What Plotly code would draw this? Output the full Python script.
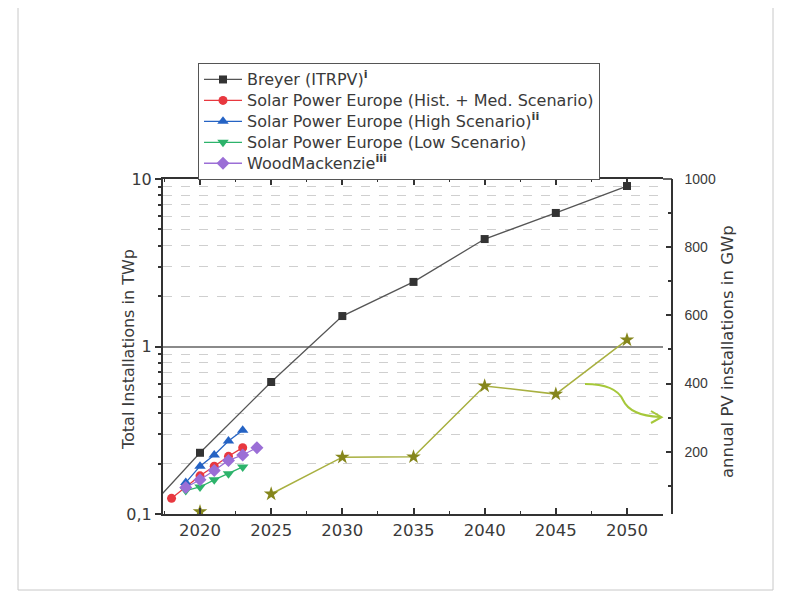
import plotly.graph_objects as go

# ---------------- data ----------------
breyer_years = [2015, 2020, 2025, 2030, 2035, 2040, 2045, 2050]
breyer_twp = [0.08, 0.232, 0.614, 1.52, 2.43, 4.38, 6.27, 9.08]

spe_med_years = [2018, 2019, 2020, 2021, 2022, 2023]
spe_med_twp = [0.124, 0.145, 0.169, 0.193, 0.221, 0.249]

spe_high_years = [2019, 2020, 2021, 2022, 2023]
spe_high_twp = [0.154, 0.193, 0.225, 0.273, 0.316]

spe_low_years = [2019, 2020, 2021, 2022, 2023]
spe_low_twp = [0.138, 0.145, 0.160, 0.174, 0.191]

wood_years = [2019, 2020, 2021, 2022, 2023, 2024]
wood_twp = [0.144, 0.160, 0.182, 0.209, 0.225, 0.249]

annual_years = [2020, 2025, 2030, 2035, 2040, 2045, 2050]
annual_gwp = [24, 76, 184, 185, 393, 369, 528]

x_ticks = [2020, 2025, 2030, 2035, 2040, 2045, 2050]
left_ticks = [0.1, 1, 10]
left_ticktext = ["0,1", "1", "10"]
right_ticks = [200, 400, 600, 800, 1000]

# ---------------- geometry helpers ----------------
# the page body adds an 8px margin, so the figure is drawn 8px smaller and
# every reference pixel position is shifted by that offset.
OFF = 8
W, H = 791 - OFF, 595 - OFF
L, R, T, B = 163 - OFF, 672 - OFF, 179 - OFF, 514 - OFF
X_END = 663 - OFF


def px(x):
    return (x - OFF - L) / (R - L)


def py(y):
    return (B - (y - OFF)) / (B - T)


FONT = "DejaVu Sans"
TXT = "#3a3a3a"

fig = go.Figure()


def leg(s):
    return '<span style="font-size:16px">' + s + '</span>'


fig.add_trace(go.Scatter(
    x=breyer_years, y=breyer_twp, mode="lines+markers",
    name=leg("Breyer (ITRPV)<sup><b>i</b></sup>"),
    line=dict(color="#555555", width=1.3),
    marker=dict(symbol="square", size=8, color="#333333")))
fig.add_trace(go.Scatter(
    x=spe_med_years, y=spe_med_twp, mode="lines+markers",
    name=leg("Solar Power Europe (Hist. + Med. Scenario)"),
    line=dict(color="#e8383f", width=1.3),
    marker=dict(symbol="circle", size=9, color="#e8383f")))
fig.add_trace(go.Scatter(
    x=spe_high_years, y=spe_high_twp, mode="lines+markers",
    name=leg("Solar Power Europe (High Scenario)<sup><b>ii</b></sup>"),
    line=dict(color="#2563c4", width=1.3),
    marker=dict(symbol="triangle-up", size=10, color="#2563c4")))
fig.add_trace(go.Scatter(
    x=spe_low_years, y=spe_low_twp, mode="lines+markers",
    name=leg("Solar Power Europe (Low Scenario)"),
    line=dict(color="#2db36b", width=1.3),
    marker=dict(symbol="triangle-down", size=10, color="#2db36b")))
fig.add_trace(go.Scatter(
    x=wood_years, y=wood_twp, mode="lines+markers",
    name=leg("WoodMackenzie<sup><b>iii</b></sup>"),
    line=dict(color="#9b6ed6", width=1.3),
    marker=dict(symbol="diamond", size=10, color="#9b6ed6")))

ax = [annual_years[0], None] + annual_years[1:]
ay = [annual_gwp[0], None] + annual_gwp[1:]
fig.add_trace(go.Scatter(
    x=ax, y=ay, yaxis="y2", mode="lines+markers", showlegend=False,
    connectgaps=False,
    line=dict(color="#a8b040", width=1.5),
    marker=dict(symbol="star", size=11, color="#85861c")))

shapes = [
    # top frame segment joining to offset right axis
    dict(type="line", xref="paper", yref="paper", x0=px(663), x1=1, y0=1, y1=1,
         line=dict(color="#333333", width=1.5)),
    # outer figure border
    dict(type="rect", xref="paper", yref="paper",
         x0=px(18), x1=px(773), y0=py(5), y1=py(590),
         line=dict(color="#c8c8c8", width=1)),
    # curved arrow
    dict(type="path", xref="paper", yref="paper",
         path=("M {},{} C {},{} {},{} {},{} C {},{} {},{} {},{}".format(
             px(585), py(384), px(606), py(384), px(618), py(389), px(623), py(400),
             px(628), py(411), px(640), py(416), px(660), py(417))),
         line=dict(color="#a6c83a", width=2)),
    dict(type="path", xref="paper", yref="paper",
         path="M {},{} L {},{} L {},{}".format(
             px(651), py(411), px(661.5), py(417.2), px(651), py(423)),
         line=dict(color="#a6c83a", width=2)),
]

annotations = [
    dict(text="Total Installations in TWp", xref="paper", yref="paper",
         x=px(128), y=py(350), textangle=-90, showarrow=False,
         xanchor="center", yanchor="middle",
         font=dict(family=FONT, size=16, color=TXT)),
    dict(text="annual PV installations in GWp", xref="paper", yref="paper",
         x=px(727), y=py(352), textangle=-90, showarrow=False,
         xanchor="center", yanchor="middle",
         font=dict(family=FONT, size=16.5, color=TXT)),
]

fig.update_layout(
    width=W, height=H,
    margin=dict(l=L, r=W - R, t=T, b=H - B, pad=0),
    paper_bgcolor="white", plot_bgcolor="white",
    font=dict(family=FONT, color=TXT),
    showlegend=True,
    legend=dict(x=px(198), y=py(63), xanchor="left", yanchor="top",
                bordercolor="#555555", borderwidth=1, bgcolor="white",
                font=dict(family=FONT, size=13.8, color=TXT),
                itemwidth=38, tracegroupgap=0),
    xaxis=dict(domain=[0, px(X_END + OFF)], range=[2017.4, 2052.53],
               tickvals=x_ticks, ticks="inside", ticklen=6, tickwidth=1.5,
               tickcolor="#333333", showline=True, linecolor="#333333",
               linewidth=1.5, mirror="ticks", showgrid=False, zeroline=False,
               ticklabelstandoff=0,
               tickfont=dict(family=FONT, size=16.5, color=TXT),
               minor=dict(dtick=2.5, tick0=2017.5, ticks="inside", ticklen=3,
                          tickcolor="#333333", tickwidth=1.2, showgrid=False)),
    yaxis=dict(type="log", range=[-1, 1], tickvals=left_ticks,
               ticktext=left_ticktext, ticks="outside", ticklen=6,
               tickwidth=1.5, tickcolor="#333333",
               showline=True, linecolor="#333333", linewidth=2,
               showgrid=True, gridcolor="#8a8a8a", gridwidth=1.5,
               zeroline=False, ticklabelstandoff=0,
               tickfont=dict(family=FONT, size=16, color=TXT),
               minor=dict(tickvals=[0.2, 0.3, 0.4, 0.5, 0.6, 0.7, 0.8, 0.9,
                                    2, 3, 4, 5, 6, 7, 8, 9],
                          ticks="outside", ticklen=3, tickwidth=2,
                          tickcolor="#333333", showgrid=True,
                          gridcolor="#cfcfcf", gridwidth=1, griddash="dash")),
    yaxis2=dict(overlaying="y", side="right", anchor="free", position=1,
                range=[17.3, 1000], tickvals=right_ticks, ticks="inside",
                ticklen=5, tickwidth=1.5, tickcolor="#333333",
                showline=True, linecolor="#333333", linewidth=1.5,
                showgrid=False, zeroline=False, ticklabelstandoff=9,
                tickfont=dict(family="Liberation Sans", size=14, color=TXT),
                minor=dict(tickvals=[100, 300, 500, 700, 900], ticks="inside",
                           ticklen=3, tickwidth=1.5, tickcolor="#333333")),
    shapes=shapes,
    annotations=annotations,
)

fig.write_html("out.html")
